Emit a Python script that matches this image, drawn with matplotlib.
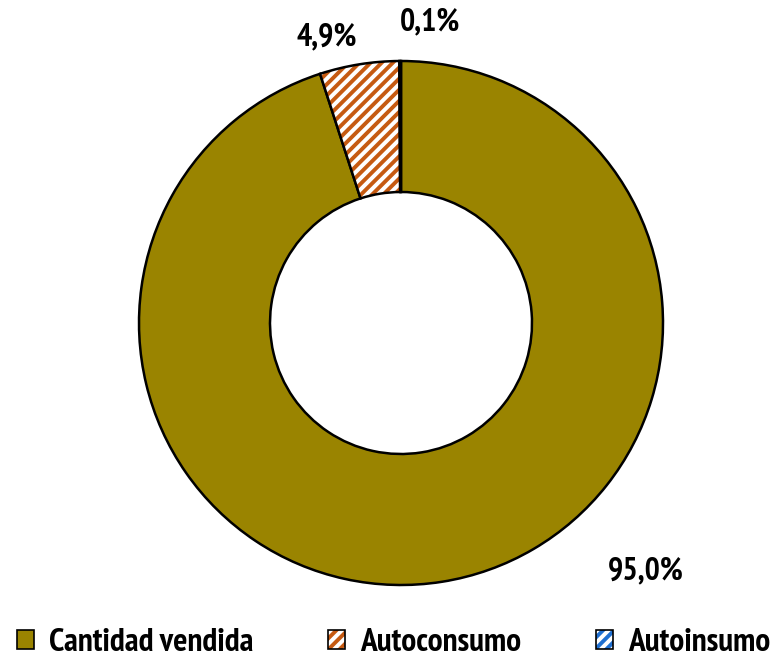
import matplotlib
matplotlib.use("Agg")
import matplotlib.pyplot as plt
from matplotlib.colors import to_rgba
from matplotlib.patches import Patch

plt.rcParams["font.family"] = ["PT Sans Narrow", "Roboto Condensed",
                               "Fira Sans Extra Condensed", "Cabin Condensed",
                               "DejaVu Sans"]
plt.rcParams["font.weight"] = "bold"
plt.rcParams["hatch.linewidth"] = 2.8

# Share of production by destination
categories = ["Cantidad vendida", "Autoconsumo", "Autoinsumo"]
shares = [95.0, 4.9, 0.1]
labels = ["95,0%", "4,9%", "0,1%"]
fills = ["#9A8400", "white", "white"]
hatch_colors = ["#9A8400", "#C65A11", "#1F6FD0"]
hatches = [None, "///", "///"]

W, H = 776, 659
fig = plt.figure(figsize=(W / 100, H / 100), dpi=100)
ax = fig.add_axes([0, 0, 1, 1])
R = 262.0
cx, cy = 401, H - 323

wedges, _ = ax.pie(shares, startangle=90, counterclock=False, radius=1,
                   colors=fills,
                   wedgeprops=dict(width=0.5, linewidth=1.8, edgecolor="black"))
for w, hc, h in zip(wedges, hatch_colors, hatches):
    if h:
        w.set_hatch(h)
        w._hatch_color = to_rgba(hc)

ax.set_aspect("auto")
ax.set_xlim(-cx / R, (W - cx) / R)
ax.set_ylim(-cy / R, (H - cy) / R)
ax.set_axis_off()

# percentage labels
label_pos = [(646, 571), (327, 37), (430, 22)]
for txt, (px, py) in zip(labels, label_pos):
    ax.text((px - cx) / R, (H - py - cy) / R, txt, fontsize=23,
            ha="center", va="center")

handles = []
for f, hc, h in zip(fills, hatch_colors, hatches):
    p = Patch(facecolor=f, edgecolor="black", hatch=h, linewidth=1.2)
    p._hatch_color = to_rgba(hc)
    handles.append(p)

leg = fig.legend(handles, categories, loc="lower left", ncol=3,
                 bbox_to_anchor=(14 / W, -0.004), frameon=False, fontsize=24,
                 borderpad=0, borderaxespad=0.1,
                 handlelength=0.5, handleheight=0.5, handletextpad=0.45,
                 columnspacing=2.25)
for lh, hc in zip(leg.legend_handles, hatch_colors):
    lh._hatch_color = to_rgba(hc)

fig.savefig("out.png", dpi=100)
